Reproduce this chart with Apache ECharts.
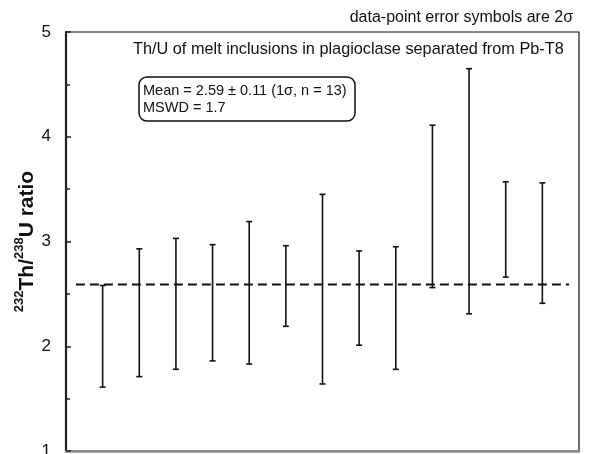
<!DOCTYPE html>
<html>
<head>
<meta charset="utf-8">
<script src="https://cdn.jsdelivr.net/npm/echarts@6/dist/echarts.min.js"></script>
<style>html,body{margin:0;padding:0;background:#fff}#c{width:590px;height:454px}</style>
</head>
<body>
<div id="c"></div>
<script>
// Data
const positions = [1,2,3,4,5,6,7,8,9,10,11,12,13];
const lows  = [1.61,1.71,1.78,1.86,1.83,2.19,1.64,2.01,1.78,2.56,2.31,2.66,2.41];
const highs = [2.58,2.93,3.03,2.97,3.19,2.96,3.45,2.91,2.95,4.11,4.65,3.57,3.56];
const meanValue = 2.59;
const meanSpan = [0.27, 13.73];
const yTicks = [1,2,3,4,5];
const titleText = 'Th/U of melt inclusions in plagioclase separated from Pb-T8';
const noteText = 'data-point error symbols are 2σ';
const statLines = ['Mean = 2.59 ± 0.11 (1σ, n = 13)', 'MSWD = 1.7'];

const FONT = 'Arial, "Liberation Sans", sans-serif';
const chart = echarts.init(document.getElementById('c'));

const errData = positions.map((p, i) => [p, lows[i], highs[i]]);

chart.setOption({
  animation: false,
  backgroundColor: '#fff',
  grid: { left: 66, top: 32, right: 11, bottom: 3, show: true, borderColor: '#111', borderWidth: 1.2, backgroundColor: 'transparent', outerBoundsMode: 'none', containLabel: false },
  xAxis: {
    type: 'value', min: 0, max: 14,
    axisLine: { show: true, onZero: false, lineStyle: { color: '#8c8c8c', width: 2.5 } },
    axisTick: { show: false }, axisLabel: { show: false }, splitLine: { show: false }
  },
  yAxis: {
    type: 'value', min: yTicks[0], max: yTicks[yTicks.length - 1], interval: 1,
    axisLine: { show: true, lineStyle: { color: '#222', width: 2.2 } },
    axisTick: { show: true, inside: true, length: 5, lineStyle: { color: '#222', width: 1.5 } },
    minorTick: { show: true, splitNumber: 2, length: 4, lineStyle: { color: '#222', width: 1.5 } },
    axisLabel: { color: '#111', fontSize: 17, fontFamily: FONT, margin: 15 },
    splitLine: { show: false },
    name: '{sup|232}{b|Th/}{sup|238}{b|U ratio}',
    nameLocation: 'middle', nameRotate: 90, nameGap: 28, nameMoveOverlap: false,
    nameTextStyle: {
      rich: {
        b: { fontSize: 21, fontWeight: 'bold', fontFamily: FONT, color: '#111', lineHeight: 25, verticalAlign: 'bottom' },
        sup: { fontSize: 13, fontWeight: 'bold', fontFamily: FONT, color: '#111', lineHeight: 14, verticalAlign: 'top' }
      }
    }
  },
  series: [
    {
      type: 'custom',
      data: errData,
      encode: { x: 0, y: [1, 2] },
      renderItem: function (params, api) {
        const x = api.value(0);
        const lo = api.coord([x, api.value(1)]);
        const hi = api.coord([x, api.value(2)]);
        const cw = 3;
        const st = { stroke: '#111', lineWidth: 1.6 };
        return {
          type: 'group',
          children: [
            { type: 'line', shape: { x1: lo[0], y1: lo[1], x2: hi[0], y2: hi[1] }, style: st },
            { type: 'line', shape: { x1: lo[0] - cw, y1: lo[1], x2: lo[0] + cw, y2: lo[1] }, style: st },
            { type: 'line', shape: { x1: hi[0] - cw, y1: hi[1], x2: hi[0] + cw, y2: hi[1] }, style: st }
          ]
        };
      }
    },
    {
      type: 'line',
      data: [[meanSpan[0], meanValue], [meanSpan[1], meanValue]],
      symbol: 'none',
      lineStyle: { color: '#111', width: 2, type: [9, 5] },
      z: 1
    }
  ],
  graphic: [
    { type: 'text', right: 17, top: 10, style: { text: noteText, font: '16px ' + FONT, fill: '#111' } },
    { type: 'text', left: 133, top: 42, style: { text: titleText, font: '16.3px ' + FONT, fill: '#111' } },
    { type: 'rect', shape: { x: 139, y: 77, width: 216, height: 44, r: 8 }, style: { fill: '#fff', stroke: '#111', lineWidth: 1.5 } },
    { type: 'text', left: 143, top: 82, style: { text: statLines.join('\n'), font: '14.5px ' + FONT, fill: '#111', lineHeight: 17 } }
  ]
});
</script>
</body>
</html>
